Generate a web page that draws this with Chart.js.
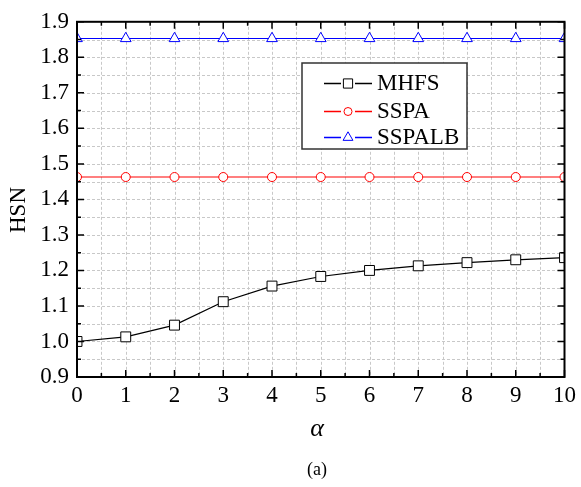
<!DOCTYPE html>
<html>
<head>
<meta charset="utf-8">
<script src="https://cdn.jsdelivr.net/npm/chart.js@4/dist/chart.umd.min.js"></script>
<style>
  html, body { margin: 0; padding: 0; background: #fff; }
  #wrap { width: 581px; height: 487px; }
</style>
</head>
<body>
<div id="wrap"><canvas id="c" width="581" height="487"></canvas></div>
<script>
// data
const alphas = [0, 1, 2, 3, 4, 5, 6, 7, 8, 9, 10];
const mhfs = [1.0, 1.013, 1.046, 1.112, 1.156, 1.183, 1.200, 1.213, 1.222, 1.230, 1.236];
const sspa = [1.463, 1.463, 1.463, 1.463, 1.463, 1.463, 1.463, 1.463, 1.463, 1.463, 1.463];
const sspalb = [1.853, 1.853, 1.853, 1.853, 1.853, 1.853, 1.853, 1.853, 1.853, 1.853, 1.853];
const seriesNames = ["MHFS", "SSPA", "SSPALB"];
const colors = ["#000000", "#ff0000", "#0000ff"];
const shapes = ["rect", "circle", "triangle"];
const radii = [7, 4.5, 6.2];

const FONT = "'Liberation Serif', 'Times New Roman', serif";

function pts(arr) {
  return alphas.map((a, i) => ({ x: a, y: arr[i] }));
}

// grid, frame and inward ticks
const framePlugin = {
  id: "frame",
  beforeDatasetsDraw(chart) {
    const { ctx, chartArea: a, scales: { x, y } } = chart;
    ctx.save();
    ctx.strokeStyle = "#c8c8c8";
    ctx.lineWidth = 1;
    ctx.setLineDash([3, 2]);
    for (let v = 0.5; v < 10; v += 0.5) {
      const px = Math.round(x.getPixelForValue(v)) + 0.5;
      ctx.beginPath(); ctx.moveTo(px, a.top); ctx.lineTo(px, a.bottom); ctx.stroke();
    }
    for (let k = 1; k < 20; k++) {
      const py = Math.round(y.getPixelForValue(0.9 + k * 0.05)) + 0.5;
      ctx.beginPath(); ctx.moveTo(a.left, py); ctx.lineTo(a.right, py); ctx.stroke();
    }
    ctx.restore();
  },
  afterDatasetsDraw(chart) {
    const { ctx, chartArea: a, scales: { x, y } } = chart;
    ctx.save();
    ctx.strokeStyle = "#000";
    ctx.lineWidth = 1.5;
    for (let k = 0; k <= 20; k++) {
      const px = x.getPixelForValue(k * 0.5);
      const len = k % 2 === 0 ? 7 : 4;
      ctx.beginPath();
      ctx.moveTo(px, a.bottom); ctx.lineTo(px, a.bottom - len);
      ctx.moveTo(px, a.top); ctx.lineTo(px, a.top + len);
      ctx.stroke();
    }
    for (let k = 0; k <= 20; k++) {
      const py = y.getPixelForValue(0.9 + k * 0.05);
      const len = k % 2 === 0 ? 7 : 4;
      ctx.beginPath();
      ctx.moveTo(a.left, py); ctx.lineTo(a.left + len, py);
      ctx.moveTo(a.right, py); ctx.lineTo(a.right - len, py);
      ctx.stroke();
    }
    ctx.lineWidth = 2;
    ctx.strokeRect(a.left, a.top, a.right - a.left, a.bottom - a.top);

    // legend box
    const bx = 302, by = 63, bw = 165, bh = 86;
    ctx.fillStyle = "#fff";
    ctx.fillRect(bx, by, bw, bh);
    ctx.strokeStyle = "#333";
    ctx.lineWidth = 1.5;
    ctx.strokeRect(bx, by, bw, bh);
    const rows = [83, 111, 137];
    seriesNames.forEach((name, i) => {
      const cy = rows[i];
      ctx.strokeStyle = colors[i];
      ctx.lineWidth = 1.3;
      ctx.beginPath();
      ctx.moveTo(324, cy + 0.5); ctx.lineTo(341, cy + 0.5);
      ctx.moveTo(355, cy + 0.5); ctx.lineTo(372, cy + 0.5);
      ctx.stroke();
      ctx.fillStyle = "#fff";
      ctx.lineWidth = 1;
      Chart.helpers.drawPoint(ctx, { pointStyle: shapes[i], radius: radii[i] - 0.5, borderWidth: 1 }, 348, cy + 0.5);
      ctx.fillStyle = "#000";
      ctx.font = "23px " + FONT;
      ctx.textBaseline = "middle";
      ctx.textAlign = "left";
      ctx.fillText(name, 377, cy + 1);
    });

    // axis titles
    ctx.fillStyle = "#000";
    ctx.textAlign = "center";
    ctx.textBaseline = "middle";
    ctx.font = "italic 26px " + FONT;
    ctx.fillText("\u03b1", 317, 429);
    ctx.font = "18px " + FONT;
    ctx.fillText("(a)", 317, 470);
    ctx.save();
    ctx.translate(19, 210);
    ctx.rotate(-Math.PI / 2);
    ctx.font = "23px " + FONT;
    ctx.fillText("HSN", 0, 0);
    ctx.restore();
    ctx.restore();
  }
};

new Chart(document.getElementById("c"), {
  type: "line",
  data: {
    datasets: [mhfs, sspa, sspalb].map((arr, i) => ({
      label: seriesNames[i],
      data: pts(arr),
      borderColor: colors[i],
      borderWidth: 1.2,
      pointStyle: shapes[i],
      pointRadius: radii[i],
      pointBackgroundColor: "#fff",
      pointBorderColor: colors[i],
      pointBorderWidth: 1,
      tension: 0
    }))
  },
  options: {
    responsive: false,
    animation: false,
    layout: { padding: { left: 0, right: 13, top: 14, bottom: 0 } },
    plugins: { legend: { display: false }, tooltip: { enabled: false } },
    scales: {
      x: {
        type: "linear",
        min: 0, max: 10,
        grid: { display: false, drawTicks: false },
        border: { display: false },
        ticks: { stepSize: 1, color: "#000", padding: 5, font: { family: FONT, size: 23 } },
        afterFit: s => { s.height = 110; }
      },
      y: {
        min: 0.9, max: 1.9,
        grid: { display: false, drawTicks: false },
        border: { display: false },
        ticks: { stepSize: 0.1, color: "#000", padding: 8, font: { family: FONT, size: 23 },
          callback: v => v.toFixed(1) },
        afterFit: s => { s.width = 77; }
      }
    }
  },
  plugins: [framePlugin]
});
</script>
</body>
</html>
